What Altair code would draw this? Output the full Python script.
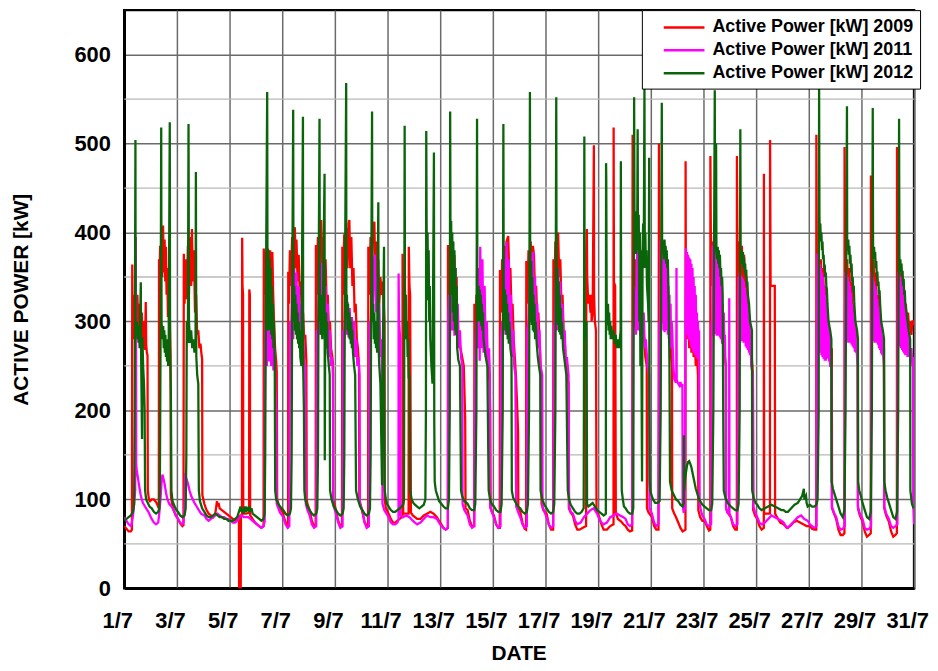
import altair as alt
import pandas as pd

SERIES = ["Active Power [kW] 2009", "Active Power [kW] 2011", "Active Power [kW] 2012"]
COLORS = ["#ff0000", "#ff00ff", "#0a640a"]
X_TICKS = list(range(1, 32, 2))
Y_MAJOR = [0, 100, 200, 300, 400, 500, 600]
Y_MINOR = [50, 150, 250, 350, 450, 550]

# "day|hour:kW hour:kW ..." readings, July
P2009 = [
    "1|0:70 2:67 4:64 6:64 7:66 7.3:364 7.6:290 8:330 9:280 10:320 11:285 12:330 13:280 14:320 15:275 16:310 17:270 18:300 19:268 19.6:322 20:275 20.6:265 21.2:262 21.5:110 22.5:100 23.5:98",
    "2|1:100 3:100 5:97 6.5:93 7.5:90 7.7:370 8:330 8.7:385 9.3:340 10:395 10.6:350 11.4:408 12:355 12.8:392 13.4:345 14:384 14.6:330 15.2:360 15.8:305 16.4:330 17:290 17.6:300 18.2:262 18.5:105 19.5:95 21:88 23:82",
    "3|1:78 3:73 5:70 6:71 6.3:376 7:320 8:370 9:325 10:385 11:330 12:395 13:340 13.7:404 14.5:345 15.5:380 16.5:310 17.5:330 18.5:285 19.5:290 20.5:270 21.5:275 22.5:262 23:258 23.2:105",
    "4|1:95 3:88 5:84 7:82 9:80 11:84 12.5:98 13:92 14:96 15:90 17:88 19:86 21:84 23:82",
    "5|1:80 3:78 5:76 7:78 8.5:80 8.7:0 10.2:0 10.4:82 11.3:82 11.5:394 11.8:340 12.3:330 12.5:84 15:84 17.8:85 18:336 18.5:330 18.8:82 20:80 22:76",
    "6|0:73 3:70 5:68 7:70 7.2:382 8:330 9:378 10:320 11:382 12:330 13:380 14:320 15:378 15.8:330 16.5:300 17.5:270 18.5:255 19:244 19.4:100 20.5:95 22:90",
    "7|0.5:85 2:78 4:72 5:70 5.4:72 5.5:356 6.2:320 7:380 8:340 9:395 10:350 11:400 11.5:406 12.3:360 13:392 14:345 15:375 16:330 17:345 18:300 19:310 20:280 21:285 22:256 22.3:100 23:95",
    "8|1:88 3:76 5:70 6.5:72 6.7:386 7.5:330 8.5:395 9.5:350 10.5:405 11.5:414 12.5:360 13.5:395 14.5:340 15.5:370 16.5:320 17.5:330 18.5:290 19.5:300 20.5:270 21.5:262 22.3:252 22.5:100 23.5:95",
    "9|1:88 3:76 5:70 6.5:70 6.8:384 7.5:330 8.5:398 9.5:350 10.5:405 11.5:360 12.5:410 13.2:414 14:360 15:395 16:340 17:360 18:310 19:320 20:280 21:270 22:250 22.3:100 23.5:94",
    "10|1:86 3:75 5:70 6.3:70 6.5:384 7.5:330 8.5:395 9.5:345 10.5:405 12:412 12.8:350 13.5:390 14.5:340 15.5:370 16.5:320 17.5:350 18.5:330 19.5:345 20.5:320 21.2:300 21.4:100 22.5:90",
    "11|1:84 3:78 5:74 7:74 9:76 11:78 13:80 13.6:80 13.7:376 14:330 14.3:84 19.2:84 19.4:384 20:340 20.6:330 21:200 21.3:85 23:82",
    "12|1:80 3:78 6:78 9:82 12:84 15:86 18:84 21:80 23:76",
    "13|1:72 3:68 5:66 7:68 7.1:386 8:320 9:380 10:330 11:390 12:335 13:375 14:320 15:350 15.5:276 17:272 18.5:270 20:260 21.5:250 22.8:190 23.1:90",
    "14|1:88 3:76 5:70 7:70 7.2:320 8:280 9:330 10:290 11:335 12:295 13:330 14:290 15:320 16:280 17:300 18:270 19:260 20:250 21:230 21.6:200 22:90 23.5:85",
    "15|1:82 3:72 5:68 6.3:68 6.5:358 7.5:310 8.5:370 9.5:320 10.5:385 11.5:340 12.5:390 14:396 15:350 16:360 17:310 18:320 19:280 20:260 21:240 22:210 23:176 23.2:90",
    "16|1:86 3:74 5:67 6.3:66 6.5:368 7.5:320 8.5:380 9.5:330 10.5:390 11.5:345 12.5:385 13.5:375 14.5:330 15.5:340 16.5:300 17.5:310 18.5:280 19.5:250 20.2:240 20.4:95 22:88",
    "17|1:84 3:72 5:66 7:66 7.2:370 8:320 9:390 10:340 11:395 11.5:400 12.5:350 13.5:370 14.5:320 15.5:330 16.5:290 17.5:280 18.5:250 19.5:240 21:230 21.3:90 23:85",
    "18|1:82 3:72 5:66 7:66 10:68 13:70 13.2:380 13.7:404 14:350 15:320 16:330 17:310 17.8:330 18:300 19:310 20.1:498 20.3:330 21:300 22:290 22.5:90 23.5:85",
    "19|1:80 3:72 5:66 8:66 11:70 14:72 14.1:518 14.4:344 15.5:340 16.1:85 18:78 21:75 23:72",
    "20|1:70 3:66 5:64 7:65 7.4:510 7.8:380 8.5:340 9.5:370 10.5:330 11.5:360 12.5:320 13.5:350 14.5:300 15.5:320 16.5:280 17.5:290 19:260 20.3:250 20.5:90 22:85",
    "21|1:80 3:70 5:66 7:66 7.4:500 7.8:380 8.5:340 9.5:390 10.5:350 11.5:385 12.5:340 13.5:370 14.5:320 15.5:330 16.5:290 17.5:300 18.5:260 19.3:250 19.5:90 21:85 23:80",
    "22|1:74 3:68 5:64 7.6:66 7.7:480 8:300 9:280 10:330 11:270 12:320 13:265 14:300 15:260 16:280 17:250 18:260 19:240 19.3:88 21:80 23:76",
    "23|1:76 3:70 5:65 6.2:66 6.3:486 6.8:380 7.5:340 8.5:390 9.5:350 10.5:385 11.5:340 12.5:370 13.5:320 14.5:340 15.5:300 16.5:310 17.5:280 18.5:275 19.5:260 20.4:250 20.6:90 22:85",
    "24|1:80 3:70 5:66 6.4:66 6.5:486 7:380 8:345 9:390 10:350 11:385 12:345 13:375 14:335 15:350 16:310 17:320 18:285 19:280 20:260 21.1:240 21.3:88 23:82",
    "25|1:78 3:70 5:66 7:68 7.1:466 7.3:84 12.6:84 12.7:504 13.2:340 17:340 17.3:84 19:80 22:74",
    "26|1:72 4:68 7:70 10:74 13:76 16:74 19:72 22:70",
    "27|1:70 3:67 5:66 6.8:66 6.9:510 7.3:380 8:345 9:375 10:335 11:370 12:330 13:360 14:320 15:340 16:300 17:310 18:280 19:275 20:262 21:270 21.2:90 23:84",
    "28|1:78 3:66 5:60 7:60 8.5:62 8.6:496 9:372 10:330 11:370 12:325 13:360 14:315 15:345 16:300 17:320 18:285 19:290 20.5:280 20.8:90 22.5:82",
    "29|1:75 3:64 5:58 7:60 8.5:62 8.6:464 9:380 10:335 11:370 12:330 13:355 14:310 15:330 16:290 17:305 18:275 19:280 20.5:270 20.8:90 22.5:82",
    "30|1:75 3:64 5:58 7:60 8.3:62 8.4:496 8.8:368 9.5:330 10.5:360 11.5:320 12.5:355 13.5:310 14.5:340 15.5:305 16.5:320 17.5:295 18.5:310 19.5:290 20.5:300 21.5:285 22.5:300 23.5:300 24:296",
]

P2011 = [
    "1|0:80 2:76 4:72 6:70 7:74 8:82 9:95 10:110 10.5:395 10.7:300 10.9:140 11.3:134 12:128 13:120 14:112 15:105 16:100 17:96 18:94 20:90 22:86 23.5:82",
    "2|1:78 3:74 5:72 7:74 8:85 9:100 10:118 10.8:128 12:122 13:116 14:108 15:102 16:98 17:95 19:92 21:88 23:82",
    "3|1:78 3:74 5:72 6:75 7:95 7.5:130 8.5:124 10:118 11.5:110 13:104 14.5:100 16:96 18:92 20:88 22:84",
    "4|1:82 3:78 5:76 7:78 9:80 11:82 13:84 15:82 17:80 19:80 21:78 23:78",
    "5|1:76 3:74 5:74 7:76 9:80 11:82 13:80 15:80 17:80 19:78 21:76 23:74",
    "6|1:72 3:70 5:68 7:70 8:75 8.3:270 9:300 10:250 11:295 12:255 13:290 14:250 15:285 16:245 17:270 18:220 18.5:200 19:95 20.5:90 22:85",
    "7|1:80 3:72 5:68 6.5:70 7:300 8:270 9:350 10:280 11:360 12:290 13:355 14:280 15:340 16:270 17:320 18:260 19:290 20:250 21:250 21.5:95 23:88",
    "8|1:82 3:72 5:68 7:70 7.5:290 8.5:280 9.5:350 10.5:285 11.5:366 12.5:290 13.5:360 14.5:285 15.5:340 16.5:270 17.5:320 18.5:260 19.5:290 20.5:250 21.5:260 22.3:240 22.5:95 23.5:90",
    "9|1:84 3:74 5:68 7:70 7.5:290 8.5:280 9.5:320 10.5:285 11.5:322 12.5:282 13.5:315 14.5:280 15.5:305 16.5:270 17.5:300 18.5:260 19.5:280 20.5:250 21.5:260 22.5:240 22.8:95",
    "10|1:88 3:74 5:68 7:70 7.5:300 8.5:280 9.5:340 10.5:300 11.5:370 12.5:375 13.5:310 14.5:350 15.5:290 16.5:320 17.5:260 18.5:280 19.2:208 19.4:95 21:88 23:84",
    "11|1:80 3:74 5:72 7:72 9:74 10:78 10.1:354 10.5:300 11:290 11.6:280 11.8:82 14:80 17:82 20:80 23:76",
    "12|1:74 3:72 6:74 9:78 12:82 15:80 18:80 21:78 23:74",
    "13|1:70 3:68 5:66 7:68 7.3:300 8:330 9:284 10:380 11:290 12:370 13:284 14:360 15:285 16:320 17:270 18:290 19:260 20.2:250 20.4:95 22:88",
    "14|1:82 3:72 5:68 7:70 8:260 9:300 10:270 11:360 12:256 12.5:384 13.5:270 14.5:370 15.5:265 16.5:340 17.5:260 18.5:300 19.5:250 20.5:270 21.3:240 21.5:92 23:86",
    "15|1:80 3:72 5:68 7:70 7.5:280 8.5:300 9.5:290 10.5:370 11.5:285 12.5:390 13.5:300 14.5:370 15.5:280 16.5:330 17.5:260 18.5:290 19.5:250 20.5:240 21.3:92 23:86",
    "16|1:80 3:72 5:68 7:70 7.5:290 8.5:300 9.5:350 10.5:300 11.5:365 12.7:378 13.5:300 14.5:350 15.5:290 16.5:320 17.5:270 18.5:290 19.5:250 21:240 21.3:92 23:86",
    "17|1:80 3:72 5:68 7:70 7.8:290 8.5:300 9.5:350 10.5:290 11.5:360 12.5:295 13.5:345 14.5:285 15.5:320 16.5:270 17.5:290 18.5:255 19.5:260 21:240 21.5:92 23:86",
    "18|1:84 3:76 5:72 8:74 11:80 14:84 17:88 20:90 23:84",
    "19|1:78 3:74 5:72 8:74 11:80 14:82 17:84 20:82 23:80",
    "20|1:78 3:72 5:70 7:72 7.8:290 8.5:300 9.5:336 10.5:285 11.5:384 12.5:290 13.5:340 14.5:284 15.5:330 16.5:280 17.5:310 18.5:270 19.5:280 21:250 22.5:240 22.8:90",
    "21|1:84 3:74 5:70 7:72 7.8:300 8.5:290 9:392 9.5:300 10:385 10.5:298 11:380 11.5:290 12:375 12.5:288 13:370 13.5:290 14:360 14.5:290 15:350 15.5:285 16:340 16.5:280 17:330 17.5:275 18:320 18.5:270 19:300 19.5:290 20.5:250 21.5:235 22.5:232 23.2:232 23.4:360 23.6:234",
    "22|1:230 2:228 3:232 4:226 4.8:230 5:95 6:85 7:90 7.5:300 8:383 8.5:290 9:378 9.5:285 10:375 10.5:280 11:372 11.5:278 12:370 12.5:272 13:365 13.5:270 14:360 14.5:266 15:350 15.5:265 16:340 16.5:262 17:330 17.5:260 18:310 18.5:258 19:300 19.5:257 20:290 20.5:95 22:86 23:82",
    "23|1:78 3:72 5:70 7:72 7.5:300 8:290 8.5:385 9:284 9.5:396 10:290 10.5:385 11:286 11.5:380 12:284 12.5:375 13:284 13.5:370 14:284 14.5:360 15:282 15.5:350 16:280 16.5:340 17:275 17.5:320 18:272 18.5:310 19:270 19.5:285 20:255 20.4:250 20.6:90 22:85 23.4:84 23.5:326 23.7:84",
    "24|1:80 3:72 5:70 7:72 7.5:280 8:350 8.5:276 9:356 9.5:276 10:352 10.5:278 11:350 11.5:280 12:348 12.5:276 13:345 13.5:276 14:338 14.5:272 15:330 15.5:270 16:320 16.5:268 17:310 17.5:265 18:295 18.5:262 19:280 19.5:250 21:240 21.5:92 23:86",
    "25|1:80 3:74 5:72 8:74 11:78 14:82 17:80 20:78 23:76",
    "26|1:74 3:70 5:68 8:72 11:76 14:80 17:82 20:78 23:76",
    "27|1:72 3:70 5:68 7:70 7.5:300 8:376 8.5:270 9:370 9.5:268 10:365 10.5:265 11:360 11.5:262 12:355 12.5:260 13:350 13.5:258 14:340 14.5:256 15:330 15.5:256 16:320 16.5:258 17:310 17.5:260 18:300 18.5:255 19:290 19.5:250 20.5:250 21:92 23:85",
    "28|1:80 3:70 5:66 7:67 8.8:70 9:300 9.5:356 10:280 10.5:352 11:278 11.5:350 12:276 12.5:345 13:276 13.5:340 14:276 14.5:332 15:274 15.5:320 16:272 16.5:310 17:270 17.5:300 18:266 18.5:290 19:265 19.5:270 20.5:250 20.8:92 22.5:84",
    "29|1:78 3:68 5:66 7:67 8.8:70 9:300 9.5:356 10:280 10.5:350 11:278 11.5:345 12:276 12.5:340 13:276 13.5:335 14:276 14.5:325 15:274 15.5:315 16:270 16.5:305 17:268 17.5:295 18:264 18.5:285 19:262 19.5:268 20.5:250 20.8:92 22.5:84",
    "30|1:78 3:70 5:68 7:70 8.8:72 9:300 9.5:356 10:275 10.5:352 11:272 11.5:350 12:270 12.5:345 13:268 13.5:340 14:266 14.5:330 15:264 15.5:320 16:262 16.5:310 17:262 17.5:300 18:260 18.5:295 19:260 19.5:280 20.5:255 21.5:270 22.5:250 23:260 23.2:100 24:72",
]

P2012 = [
    "1|0:76 2:78 4:80 6:82 8:86 9:95 9.5:200 10.2:504 10.4:300 11:284 11.5:300 12:280 12.5:295 13:276 13.5:290 14:270 14.5:300 15.1:344 15.4:260 16.2:168 16.6:282 17.2:250 18:230 18.6:200 19:110 20:100 21.5:96 23:92",
    "2|1:90 3:86 5:84 7:86 8:90 8.5:120 9.2:300 9.7:518 10:300 11:280 11.5:295 12:270 12.5:290 13:265 13.5:285 14:260 14.5:280 15:255 15.5:275 16:250 16.5:270 17.5:524 17.8:270 18.5:220 19:110 20:98 22:92 23.5:88",
    "3|1:86 3:82 5:80 7:82 8:90 8.6:150 9:300 10:276 10.6:522 11:300 12:276 13:290 14:270 15:280 16:265 17:280 17.3:468 17.7:260 18.5:240 19.5:230 20:110 21:98 23:90",
    "4|1:86 3:82 5:80 7:80 9:82 11:84 13:82 15:80 17:80 19:78 21:78 23:76",
    "5|1:76 3:76 5:78 7:80 8:84 9:88 10:92 11:86 12:90 13:84 14:92 15:86 16:90 17:88 18:92 19:86 20:90 21:84 23:82",
    "6|1:80 3:78 5:76 7:78 8:84 8.5:150 9:300 10.3:558 10.6:340 11:290 11.5:380 12:300 12.5:370 13:290 13.5:360 14:285 14.5:340 15:280 15.5:320 16:270 16.5:300 17.2:250 17.6:110 18.5:100 20:96 22:92",
    "7|1:88 3:84 5:82 7:84 8:90 8.6:150 9:296 10:538 10.3:300 11:340 11.5:290 12:330 12.5:285 13:320 13.5:280 14:310 14.5:275 15:300 15.5:270 16:290 16.5:260 17.5:250 18.9:530 19.1:250 19.8:200 20.2:110 21:100 23:92",
    "8|1:88 3:84 5:82 7:84 8:90 8.6:150 9:300 10:528 10.3:300 11:330 11.5:285 12:320 12.5:280 13:310 14.6:466 14.8:144 15.2:300 15.5:280 16:310 16.5:270 17:300 17.5:265 18.5:250 19.3:240 19.6:110 21:100 23:92",
    "9|1:88 3:84 5:82 7:84 8:90 8.6:150 9:300 10.3:568 10.5:304 11:330 11.5:290 12:320 12.5:285 13:310 13.5:280 14:305 14.5:275 15:300 15.5:270 16:290 16.5:265 17.5:250 18.5:240 19.3:110 21:100 23:92",
    "10|1:88 3:84 5:82 7:84 8:90 8.6:150 9:300 9.9:536 10.2:300 11:320 11.5:280 12:310 12.5:275 13:300 13.5:270 14:290 14.5:265 15.6:434 15.9:270 16.5:250 17.5:230 19:116 19.5:240 20.8:384 21:250 21.4:110 22.5:100 23.5:95",
    "11|1:92 3:88 5:86 7:86 9:88 11:90 13:92 14.5:95 15:100 15.6:520 15.9:340 16.3:300 16.8:330 17.3:280 17.8:300 18.3:260 18.8:280 19.3:236 20:240 20.6:110 22:100 23.5:96",
    "12|1:94 3:92 5:90 7:92 9:94 10.5:100 11:200 11.3:514 11.6:416 12:330 12.5:400 13:324 13.5:380 14:300 14.5:340 15:280 16:250 17:230 18.3:490 18.6:188 19:120 20:110 21.5:104 23:98",
    "13|1:95 3:92 5:90 7:90 8:100 8.7:200 9.1:536 9.4:390 10:413 10.5:330 11:400 11.5:310 12:390 12.5:300 13:380 13.5:290 14:360 14.5:285 15:340 15.5:270 16.5:257 18:250 19:110 20:104 22:98",
    "14|1:95 3:90 5:88 7:88 8:95 9:200 9.6:528 9.9:336 10.5:300 11:340 11.5:310 12:336 12.5:300 13:330 13.5:295 14:320 14.5:290 15:310 15.5:280 16.5:270 17.5:260 19:250 20.2:110 21.5:100 23:95",
    "15|1:92 3:88 5:86 7:86 8:95 9:200 9.6:522 9.9:340 10.5:300 11:336 11.5:290 12:330 12.5:285 13:320 13.5:280 14:310 14.5:275 15:300 16:270 17:260 17.3:110 18.5:102 21:96 23:92",
    "16|1:90 3:86 5:84 7:86 8:95 9:200 9.8:558 10.1:340 10.5:300 11:368 11.5:296 12:350 12.5:290 13:330 13.5:288 14:320 14.5:280 15:300 16:275 17:260 18:250 19.2:240 19.5:110 21:100 23:94",
    "17|1:90 3:86 5:84 7:86 8:95 9:200 9.8:552 10.1:340 10.5:300 11:360 11.5:296 12:345 12.5:288 13:330 13.5:285 14:315 14.5:280 15:300 16:270 17:260 18:250 19:240 20.3:110 21.5:100 23:94",
    "18|1:90 3:86 5:84 7:84 9:86 10.8:90 11:200 11.4:508 11.7:290 12.2:300 12.8:280 13.4:300 13.9:95 15:92 17:94 19:96 21:92 23:88",
    "19|1:86 3:84 5:82 7:84 7.2:478 7.4:460 7.8:300 8.5:296 9:320 9.5:290 10:310 10.5:285 11:300 11.5:280 12:295 13:280 14:290 15:275 16:285 17:270 18:280 19:270 20.5:290 20.7:480 21:270 21.5:110 22.5:100 23.5:92",
    "20|1:90 3:86 5:84 7:84 8:90 8.8:552 9.1:424 9.6:380 10:420 10.5:376 11:424 11.5:380 12:516 12.3:380 13:420 13.5:300 14:400 14.5:250 15:380 16:120 16.5:380 17:410 17.5:360 18.2:564 18.5:380 19:400 19.5:360 20:380 20.5:340 21:330 21.5:320 22:300 22.5:484 22.7:200 23:120 23.5:110",
    "21|0.5:105 2:100 4:96 6:96 8:98 9:200 10:546 10.3:392 11:376 11.5:390 12:370 12.5:392 13:372 13.5:385 14:365 14.5:380 15:360 15.5:370 16:340 16.5:300 17:250 17.5:120 19:110 21:105 23:100",
    "22|1:98 3:94 5:92 6:96 6.2:172 6.4:110 7:120 8:130 9:138 10:142 11:143 12:140 13:136 14:130 15:124 16:118 17:112 18:108 19:104 20:100 21:98 22:96 23:94",
    "23|1:92 3:90 5:88 7:88 8:95 9:200 10.3:560 10.6:384 11:380 11.5:500 11.8:380 12.5:370 13:384 13.5:365 14:380 14.5:360 15:375 15.5:350 16:360 16.5:340 17:350 17.5:330 18:200 18.5:110 20:102 22:96",
    "24|1:92 3:90 5:88 7:88 8:95 9:200 9.6:516 9.9:376 10.5:368 11:380 11.5:365 12:378 12.5:360 13:372 13.5:355 14:365 14.5:350 15:358 15.5:340 16:345 16.5:330 17.5:320 18.5:300 20.2:290 20.4:110 22:100 23.5:96",
    "25|1:94 3:90 5:88 8:90 11:92 14:94 17:92 20:90 23:88",
    "26|1:88 3:86 5:86 8:90 11:94 14:96 16:100 18:104 19.5:112 20:100 21.5:104 22:96 23:92",
    "27|1:94 3:92 5:92 7:94 8:100 9:200 9.4:566 9.7:420 10:400 10.5:410 11:390 11.5:400 12:380 12.5:390 13:370 13.5:375 14:360 14.5:364 15:350 15.5:355 16:340 16.5:336 17:320 18:300 19.5:290 20.6:280 20.8:120 22:112 23.5:106",
    "28|1:100 3:92 5:84 7:80 8.5:88 9.5:200 10.8:542 11:392 11.5:380 12:392 12.5:375 13:385 13.5:365 14:375 14.5:355 15:365 15.5:345 16:350 16.5:335 17:340 17.5:320 18.5:300 20:290 20.8:280 21:120 22:110 23.5:104",
    "29|1:96 3:88 5:80 7:78 8.5:86 9.5:200 10.3:540 10.6:384 11:375 11.5:384 12:370 12.5:378 13:360 13.5:368 14:350 14.5:356 15:340 15.5:345 16:330 16.5:335 17:320 18:300 19.5:290 20.6:280 20.8:120 22:110 23.5:102",
    "30|1:96 3:88 5:80 7:78 8.5:86 9.5:200 10.3:528 10.6:372 11:360 11.5:370 12:355 12.5:365 13:350 13.5:357 14:340 14.5:348 15:330 15.5:335 16:320 17:310 18:300 19:290 20.4:280 20.6:110 22:95 23.5:90",
]


def expand(name, days):
    rows = []
    for s in days:
        d, pts = s.split("|")
        for p in pts.split():
            h, v = p.split(":")
            rows.append({"series": name, "day": int(d) + float(h) / 24.0, "kw": float(v)})
    return pd.DataFrame(rows)


FONT = "Liberation Sans"

x_enc = alt.X(
    "day:Q",
    scale=alt.Scale(domain=[1, 31], nice=False, zero=False),
    axis=alt.Axis(
        values=X_TICKS, labelExpr="datum.value + '/7'", title="DATE",
        grid=True, gridColor="#6a6a6a", gridWidth=1.5, ticks=False,
        labelPadding=22, labelOffset=-7, labelFlush=False,
        domainColor="black", domainWidth=2.5,
        titleX=397, titleY=66, titleBaseline="middle", titleAlign="center",
    ),
)
y_enc = alt.Y(
    "kw:Q",
    scale=alt.Scale(domain=[0, 650], nice=False, zero=True),
    axis=alt.Axis(
        values=Y_MAJOR, title="ACTIVE POWER [kW]",
        grid=True, gridColor="#6a6a6a", gridWidth=1.5, ticks=False,
        labelPadding=14, domainColor="black", domainWidth=2.5,
        titleX=-103, titleY=291, titleAngle=270, titleBaseline="middle", titleAlign="center",
    ),
)
color_enc = alt.Color(
    "series:N",
    scale=alt.Scale(domain=SERIES, range=COLORS),
    legend=alt.Legend(
        title=None, orient="none", legendX=521, legendY=0,
        symbolType="M-2,0L2,0", symbolSize=420, symbolStrokeWidth=2.5,
        labelFont=FONT, labelFontSize=18, labelFontWeight="bold", labelColor="black",
        labelLimit=400, labelOffset=17, padding=6, rowPadding=2,
        fillColor="white", strokeColor="black", symbolOffset=25,
    ),
)

minor = alt.Chart(pd.DataFrame({"kw": Y_MINOR})).mark_rule(
    color="#b8b8b8", strokeWidth=1.3
).encode(y=y_enc)

layers = [minor]
for name, days in zip(SERIES, [P2009, P2011, P2012]):
    layers.append(
        alt.Chart(expand(name, days)).mark_line(strokeWidth=2.3, clip=True).encode(
            x=x_enc, y=y_enc, color=color_enc
        )
    )

chart = alt.layer(*layers).properties(
    width=795, height=582,
    autosize=alt.AutoSizeParams(type="none"),
    padding={"left": 117, "top": 0, "right": 16, "bottom": 75},
    background="white",
).configure_view(
    stroke="black", strokeWidth=2.5
).configure_axis(
    labelFont=FONT, labelFontSize=22, labelFontWeight="bold", labelColor="black",
    titleFont=FONT, titleFontSize=21, titleFontWeight="bold", titleColor="black",
)

chart.save("out.html", embed_options={"renderer": "svg", "actions": False})
